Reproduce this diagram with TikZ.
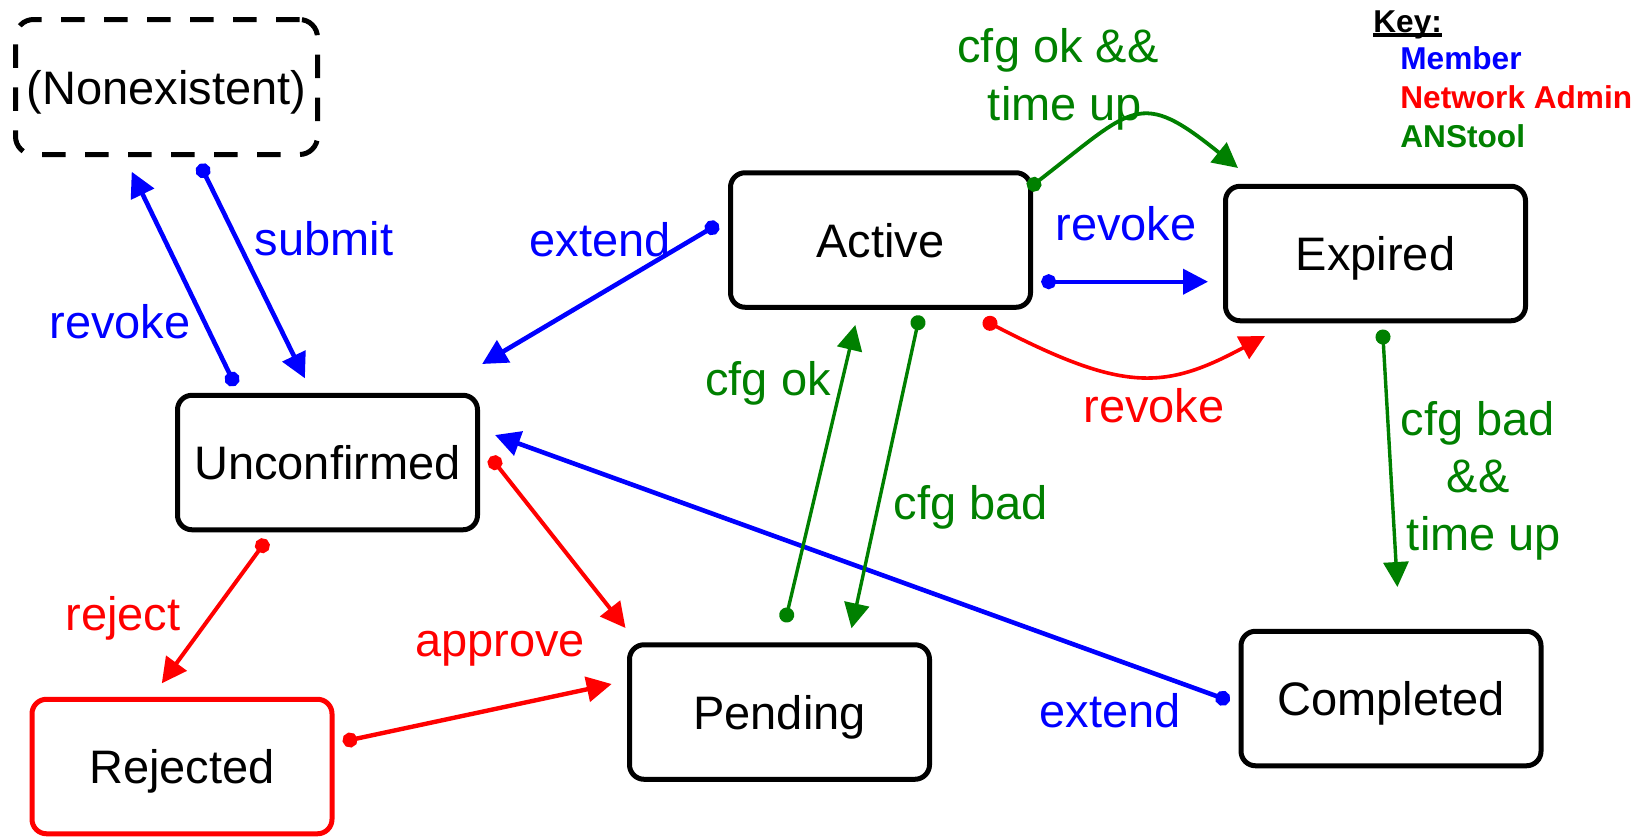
\documentclass[tikz,border=0pt]{standalone}
\usepackage{fontspec}
\setmainfont{Liberation Sans}
\usetikzlibrary{arrows.meta,calc}
\definecolor{mblue}{RGB}{0,0,255}
\definecolor{mred}{RGB}{255,0,0}
\definecolor{mgreen}{RGB}{0,128,0}
\newcommand\keyul[1]{\setbox0\hbox{#1}\rlap{\rule[-2.5pt]{\wd0}{1.8pt}}\box0}
\begin{document}
\begin{tikzpicture}[x=0.5pt,y=-0.5pt,
  state/.style={draw=black, line width=2.5pt, rounded corners=7.25pt,
    minimum width=150pt, minimum height=67.25pt, inner sep=0pt,
    font=\fontsize{23.5}{28}\selectfont, text height=17.2pt, text depth=0pt},
  lbl/.style={anchor=base, inner sep=0pt, font=\fontsize{23.5}{28}\selectfont},
  keytxt/.style={anchor=base west, inner sep=0pt, font=\fontsize{15.8}{18}\selectfont\bfseries},
  trans/.style={{Circle[length=7.5pt]}-{Triangle[length=12.5pt,width=12.5pt]}},
  member/.style={trans, draw=mblue, line width=2.3pt},
  admin/.style={trans, draw=mred, line width=2pt},
  tool/.style={trans, draw=mgreen, line width=1.7pt}]
\useasboundingbox (0,0) rectangle (1644,837);

% states
\node[state, dash pattern=on 11.75pt off 9.75pt, rounded corners=9pt,
      minimum width=151pt, minimum height=67.5pt] (nonex) at (166.5,87) {(Nonexistent)};
\node[state] (unconf) at (327.5,462.5) {Unconfirmed};
\node[state, draw=mred] (rejected) at (182,766.5) {Rejected};
\node[state] (pending) at (779.5,712) {Pending};
\node[state] (completed) at (1391,698.5) {Completed};
\node[state] (active) at (880.5,240) {Active};
\node[state] (expired) at (1375.5,253.5) {Expired};

% connector end points
\coordinate (subS) at (203.1,170.7);   \coordinate (subT) at (304.9,378.3);
\coordinate (revLS) at (232.1,379);    \coordinate (revLT) at (131.7,171.7);
\coordinate (extAS) at (712,227.7);    \coordinate (extAT) at (482.1,364);
\coordinate (revBS) at (1048.7,281.7); \coordinate (revBT) at (1208,281.7);
\coordinate (okupS) at (1034,184.3);   \coordinate (okupA) at (1134.6,106.4);
\coordinate (okupB) at (1139.2,88.2);  \coordinate (okupT) at (1238,168);
\coordinate (revRS) at (990,323.3);    \coordinate (revRA) at (1123,392.3);
\coordinate (revRB) at (1163.8,390.5); \coordinate (revRT) at (1265,336);
\coordinate (badupS) at (1383,337);    \coordinate (badupT) at (1397.4,587);
\coordinate (okS) at (786.7,615);      \coordinate (okT) at (855.3,325);
\coordinate (badS) at (918,322.7);     \coordinate (badT) at (851.5,628.3);
\coordinate (extCS) at (1222.7,698.3); \coordinate (extCT) at (495,435);
\coordinate (apprS) at (495,462.7);    \coordinate (apprT) at (625.5,628);
\coordinate (rejS) at (262.4,545.7);   \coordinate (rejT) at (161.8,683.3);
\coordinate (rpS) at (350,740);        \coordinate (rpT) at (611.7,684);

% connectors
\draw[member] ($(subS)!-3.75pt!(subT)$) -- (subT);
\draw[member] ($(revLS)!-3.75pt!(revLT)$) -- (revLT);
\draw[member] ($(extAS)!-3.75pt!(extAT)$) -- (extAT);
\draw[member, line width=2.1pt] ($(revBS)!-3.75pt!(revBT)$) -- (revBT);
\draw[member] ($(extCS)!-3.75pt!(extCT)$) -- (extCT);
\draw[tool, line width=1.9pt] ($(okupS)!-3.75pt!(okupA)$) .. controls (okupA) and (okupB) .. (okupT);
\draw[admin, line width=1.8pt] ($(revRS)!-3.75pt!(revRA)$) .. controls (revRA) and (revRB) .. (revRT);
\draw[tool] ($(badupS)!-3.75pt!(badupT)$) -- (badupT);
\draw[tool] ($(okS)!-3.75pt!(okT)$) -- (okT);
\draw[tool] ($(badS)!-3.75pt!(badT)$) -- (badT);
\draw[admin] ($(apprS)!-3.75pt!(apprT)$) -- (apprT);
\draw[admin] ($(rejS)!-3.75pt!(rejT)$) -- (rejT);
\draw[admin, line width=2.2pt] ($(rpS)!-3.75pt!(rpT)$) -- (rpT);

% labels
\node[lbl, text=mblue] (lsubmit) at (324,255) {submit};
\node[lbl, text=mblue] (lrevokeL) at (120,338) {revoke};
\node[lbl, text=mblue] (lextendA) at (600,256) {extend};
\node[lbl, text=mblue] (lrevokeB) at (1126,240.7) {revoke};
\node[lbl, text=mgreen] (lokup1) at (1058,62) {cfg ok \&\&};
\node[lbl, text=mgreen] (lokup2) at (1065,120) {time up};
\node[lbl, text=mred] (lrevokeR) at (1154,422) {revoke};
\node[lbl, text=mgreen] (lok) at (768,395) {cfg ok};
\node[lbl, text=mgreen] (lbad) at (971,519) {cfg bad};
\node[lbl, text=mgreen] (lbadup1) at (1478,435) {cfg bad};
\node[lbl, text=mgreen] (lbadup2) at (1478,492) {\&\&};
\node[lbl, text=mgreen] (lbadup3) at (1484,550) {time up};
\node[lbl, text=mblue] (lextendC) at (1110,727) {extend};
\node[lbl, text=mred] (lapprove) at (500,656) {approve};
\node[lbl, text=mred] (lreject) at (123,630) {reject};

% key
\node[keytxt] (key) at (1373,32) {\keyul{Key:}};
\node[keytxt, text=mblue] (kmember) at (1400,69) {Member};
\node[keytxt, text=mred] (kadmin) at (1400,108) {Network Admin};
\node[keytxt, text=mgreen] (ktool) at (1400,147) {ANStool};
\end{tikzpicture}
\end{document}
